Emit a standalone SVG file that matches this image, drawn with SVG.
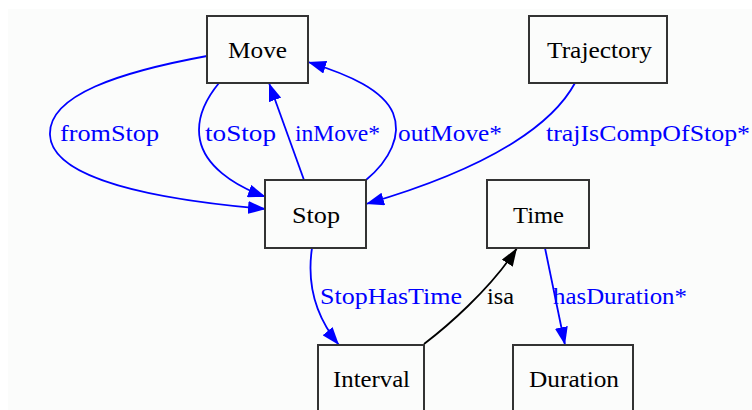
<svg xmlns="http://www.w3.org/2000/svg" width="752" height="410" viewBox="0 0 752 410">
<defs>
<style>
.node rect{fill:#fbfcfb;stroke:#333;stroke-width:2}
text{font-family:"Liberation Serif","Times New Roman",serif;font-size:24px}
.nl{fill:#000}
.el{fill:#0000ff}
.e path{fill:none;stroke:#0000ff;stroke-width:1.8}
.e path.k{stroke:#000}
</style>
<marker id="ab" markerUnits="userSpaceOnUse" viewBox="0 0 18 13" refX="18" refY="6.5" markerWidth="18" markerHeight="13" orient="auto"><path d="M0,0 L18,6.5 L0,13 z" fill="#0000ff"/></marker>
<marker id="ak" markerUnits="userSpaceOnUse" viewBox="0 0 18 13" refX="18" refY="6.5" markerWidth="18" markerHeight="13" orient="auto"><path d="M0,0 L18,6.5 L0,13 z" fill="#000"/></marker>
</defs>
<rect x="8" y="9" width="744" height="401" fill="#fbfcfb"/>
<g id="connectors" class="e">
<g id="e-fromStop"><path d="M207,56 C120,72 48,95 50,135 C52,180 160,200 266,209" marker-end="url(#ab)"/><text class="el" x="60" y="141" textLength="99" lengthAdjust="spacingAndGlyphs">fromStop</text></g>
<g id="e-toStop"><path d="M219,83 C205,100 196,120 200,140 C205,165 232,185 266,197" marker-end="url(#ab)"/><text class="el" x="205" y="141" textLength="71" lengthAdjust="spacingAndGlyphs">toStop</text></g>
<g id="e-inMove"><path d="M304,180 L269,83" marker-end="url(#ab)"/><text class="el" x="295" y="141" textLength="85" lengthAdjust="spacingAndGlyphs">inMove*</text></g>
<g id="e-outMove"><path d="M366,180 C390,160 402,135 393,113 C383,90 350,75 308,62" marker-end="url(#ab)"/><text class="el" x="398" y="141" textLength="104" lengthAdjust="spacingAndGlyphs">outMove*</text></g>
<g id="e-traj"><path d="M575,83 C555,120 500,165 366,204" marker-end="url(#ab)"/><text class="el" x="546" y="141" textLength="204" lengthAdjust="spacingAndGlyphs">trajIsCompOfStop*</text></g>
<g id="e-stopHasTime"><path d="M312,248 C308,275 310,310 339,345" marker-end="url(#ab)"/><text class="el" x="320" y="304" textLength="142" lengthAdjust="spacingAndGlyphs">StopHasTime</text></g>
<g id="e-isa"><path class="k" d="M424,344 C445,328 490,290 517,248" marker-end="url(#ak)"/><text class="nl" x="487" y="304" textLength="27" lengthAdjust="spacingAndGlyphs">isa</text></g>
<g id="e-hasDuration"><path d="M545,248 L565,345" marker-end="url(#ab)"/><text class="el" x="553" y="304" textLength="134" lengthAdjust="spacingAndGlyphs">hasDuration*</text></g>
</g>
<g id="Move" class="node"><rect x="207" y="16" width="101" height="67"/><text class="nl" x="228" y="58" textLength="59" lengthAdjust="spacingAndGlyphs">Move</text></g>
<g id="Trajectory" class="node"><rect x="529" y="16" width="138" height="67"/><text class="nl" x="547" y="58" textLength="105" lengthAdjust="spacingAndGlyphs">Trajectory</text></g>
<g id="Stop" class="node"><rect x="265" y="180" width="101" height="68"/><text class="nl" x="292" y="223" textLength="48" lengthAdjust="spacingAndGlyphs">Stop</text></g>
<g id="Time" class="node"><rect x="487" y="180" width="102" height="68"/><text class="nl" x="513" y="223" textLength="51" lengthAdjust="spacingAndGlyphs">Time</text></g>
<g id="Interval" class="node"><rect x="318" y="345" width="106" height="80"/><text class="nl" x="333" y="387" textLength="77" lengthAdjust="spacingAndGlyphs">Interval</text></g>
<g id="Duration" class="node"><rect x="513" y="345" width="120" height="80"/><text class="nl" x="529" y="387" textLength="90" lengthAdjust="spacingAndGlyphs">Duration</text></g>
</svg>
